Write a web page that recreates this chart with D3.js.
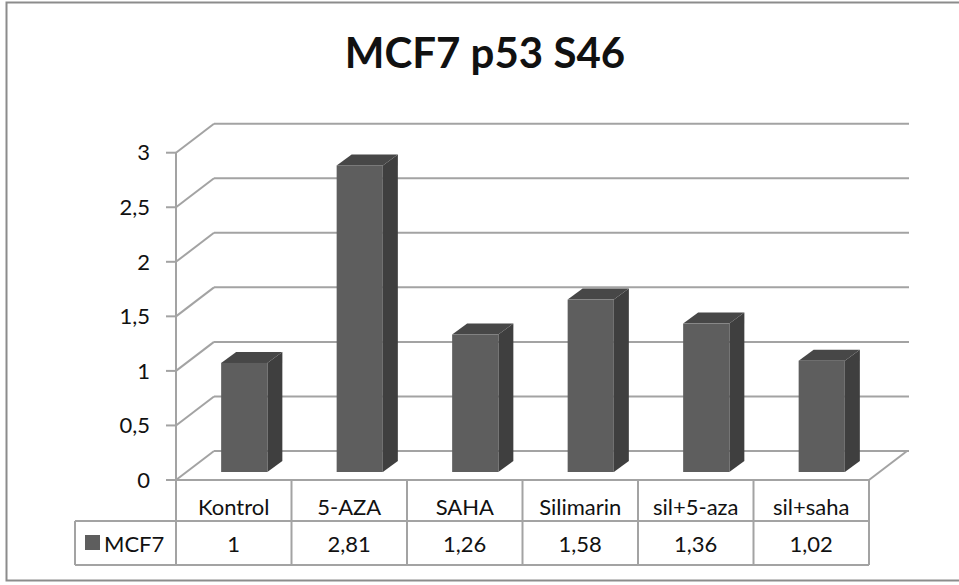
<!DOCTYPE html>
<meta charset="utf-8">
<html>
<head>
<script src="https://cdn.jsdelivr.net/npm/d3@7/dist/d3.min.js"></script>
<style>
  body { margin: 0; background: #fff; }
  text { font-family: Lato, "Open Sans", sans-serif; fill: #111; }
</style>
</head>
<body>
<div id="chart"></div>
<script>
// chart data
var categories = ["Kontrol", "5-AZA", "SAHA", "Silimarin", "sil+5-aza", "sil+saha"];
var seriesName = "MCF7";
var values = [1, 2.81, 1.26, 1.58, 1.36, 1.02];
var valueLabels = ["1", "2,81", "1,26", "1,58", "1,36", "1,02"];
var yTicks = [0, 0.5, 1, 1.5, 2, 2.5, 3];

var W = 959, H = 585;
var svg = d3.select("#chart").append("svg")
    .attr("width", W).attr("height", H);

// outer frame
svg.append("rect")
    .attr("x", 6.5).attr("y", 2.5)
    .attr("width", W + 10).attr("height", 578)
    .attr("fill", "#fff").attr("stroke", "#8c8c8c").attr("stroke-width", 2);

// title
svg.append("text")
    .attr("x", 485).attr("y", 68)
    .attr("text-anchor", "middle")
    .style("font-size", "42px").style("font-weight", "bold")
    .text("MCF7 p53 S46");

// scales
var x = d3.scaleBand().domain(categories).range([176, 869]);
var y = d3.scaleLinear().domain([0, 3]).range([480, 152.7]);
var bw = x.bandwidth();

// depth offsets (floor and bars)
var depthX = 38, depthY = -29;
var barShiftX = 10.5, barShiftY = -8;
var barDX = 15, barDY = -11;

var grid = "#a3a3a3";
var fs = "22px";

// back wall gridlines and side wall diagonals
var g = svg.append("g");
yTicks.forEach(function(t) {
  g.append("line")
    .attr("x1", 176).attr("y1", y(t))
    .attr("x2", 176 + depthX).attr("y2", y(t) + depthY)
    .attr("stroke", grid).attr("stroke-width", 2);
  g.append("line")
    .attr("x1", 176 + depthX).attr("y1", y(t) + depthY)
    .attr("x2", 869 + depthX + 2).attr("y2", y(t) + depthY)
    .attr("stroke", grid).attr("stroke-width", 2);
  // tick mark
  g.append("line")
    .attr("x1", 166).attr("y1", y(t))
    .attr("x2", 176).attr("y2", y(t))
    .attr("stroke", grid).attr("stroke-width", 2);
  g.append("text")
    .attr("x", 150).attr("y", y(t))
    .attr("dy", "0.35em")
    .attr("text-anchor", "end")
    .style("font-size", fs)
    .text(String(t).replace(".", ","));
});
// floor right edge
g.append("line")
  .attr("x1", 869).attr("y1", 480)
  .attr("x2", 869 + depthX).attr("y2", 480 + depthY)
  .attr("stroke", grid).attr("stroke-width", 2);
// vertical axis
g.append("line")
  .attr("x1", 176).attr("y1", y(3))
  .attr("x2", 176).attr("y2", 480)
  .attr("stroke", grid).attr("stroke-width", 2);

// bars
var bars = svg.append("g").selectAll("g")
    .data(values).enter().append("g");

function bx0(d, i) { return x(categories[i]) + bw * 0.3 + barShiftX; }
function bx1(d, i) { return bx0(d, i) + bw * 0.4; }
function byTop(d) { return y(d) + barShiftY; }
var yBot = y(0) + barShiftY;

bars.append("path")
  .attr("fill", "#3f3f3f")
  .attr("d", function(d, i) {
    var a = bx1(d, i), t = byTop(d);
    return "M" + a + "," + yBot + "L" + (a + barDX) + "," + (yBot + barDY) +
      "L" + (a + barDX) + "," + (t + barDY) + "L" + a + "," + t + "Z";
  });
bars.append("path")
  .attr("fill", "#474747")
  .attr("d", function(d, i) {
    var a = bx0(d, i), b = bx1(d, i), t = byTop(d);
    return "M" + a + "," + t + "L" + (a + barDX) + "," + (t + barDY) +
      "L" + (b + barDX) + "," + (t + barDY) + "L" + b + "," + t + "Z";
  });
bars.append("rect")
  .attr("fill", "#5e5e5e")
  .attr("x", bx0)
  .attr("y", byTop)
  .attr("width", bw * 0.4)
  .attr("height", function(d) { return yBot - byTop(d); });

// data table
var tb = svg.append("g");
var rowTop = 480, rowMid = 521, rowBot = 565, legLeft = 75;
function tline(x1, y1, x2, y2) {
  tb.append("line").attr("x1", x1).attr("y1", y1).attr("x2", x2).attr("y2", y2)
    .attr("stroke", grid).attr("stroke-width", 2);
}
tline(166, rowTop, 869, rowTop);
tline(legLeft, rowMid, 869, rowMid);
tline(legLeft, rowBot, 869, rowBot);
tline(legLeft, rowMid, legLeft, rowBot);
categories.forEach(function(c) { tline(x(c), rowTop, x(c), rowBot); });
tline(869, rowTop, 869, rowBot);

tb.selectAll(".cat").data(categories).enter().append("text")
  .attr("x", function(d) { return x(d) + bw / 2; })
  .attr("y", 515)
  .attr("text-anchor", "middle")
  .style("font-size", fs)
  .text(function(d) { return d; });

tb.selectAll(".val").data(valueLabels).enter().append("text")
  .attr("x", function(d, i) { return x(categories[i]) + bw / 2; })
  .attr("y", 552)
  .attr("text-anchor", "middle")
  .style("font-size", fs)
  .text(function(d) { return d; });

tb.append("rect")
  .attr("x", 85).attr("y", 535).attr("width", 15).attr("height", 15)
  .attr("fill", "#5e5e5e");
tb.append("text")
  .attr("x", 104).attr("y", 552)
  .style("font-size", fs)
  .text(seriesName);
</script>
</body>
</html>
